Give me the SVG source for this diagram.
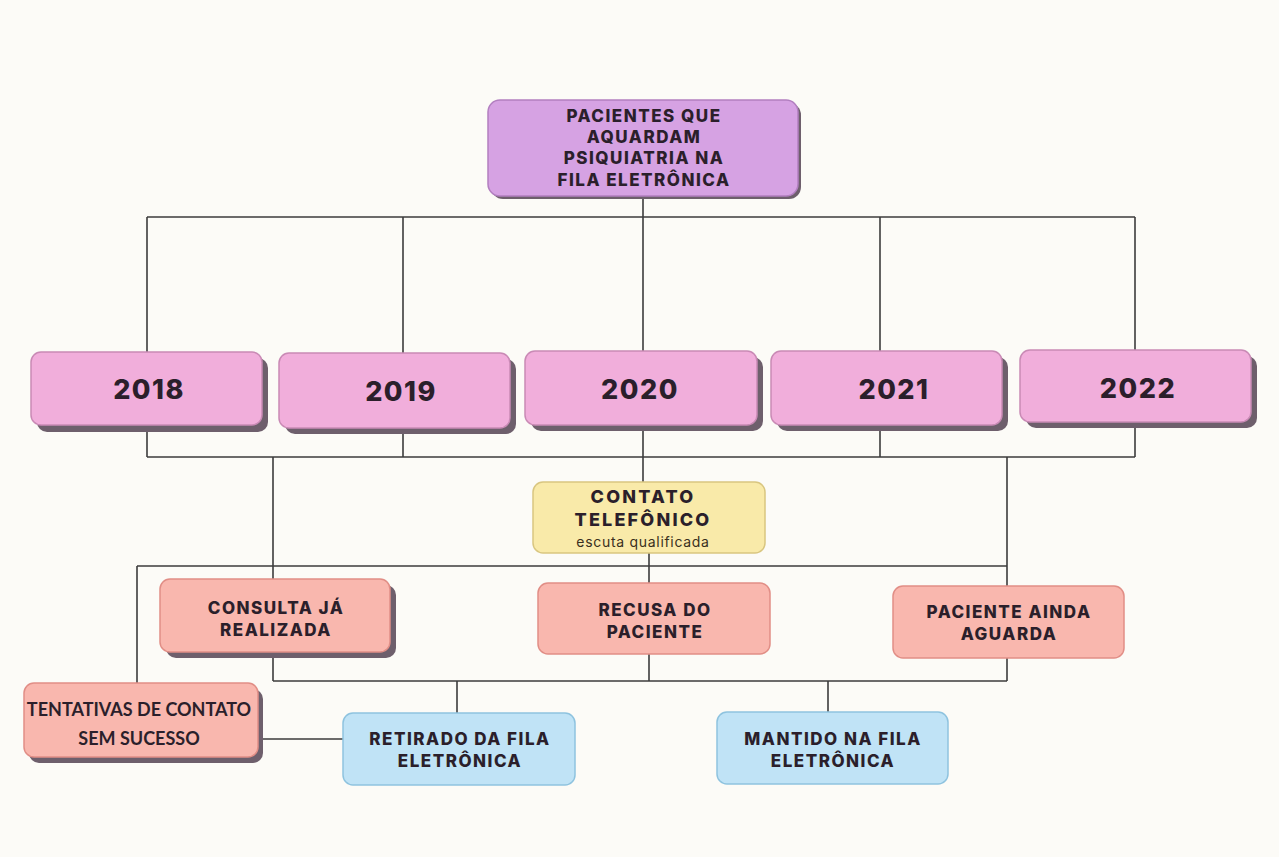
<svg xmlns="http://www.w3.org/2000/svg" width="1279" height="857" viewBox="0 0 1279 857">
<style>
.t{font-family:Inter,"Noto Sans","Liberation Sans",sans-serif;font-weight:800;fill:#2b1f2b;text-anchor:middle}
.h{font-size:17px;letter-spacing:1.5px}
.y{font-size:27px;letter-spacing:1.5px}
.k{font-size:18px;letter-spacing:2.2px}
.s{font-family:Lato,"Liberation Sans",sans-serif;font-weight:700;font-size:18px;fill:#2b1f2b;text-anchor:middle}
.sm{font-family:Inter,"Noto Sans","Liberation Sans",sans-serif;font-weight:400;font-size:14px;letter-spacing:0.7px;fill:#3a3020;text-anchor:middle}
.top{fill:#d6a2e3;stroke:#b27fc0;stroke-width:1.5}
.yr{fill:#f1aedb;stroke:#c98ab5;stroke-width:1.5}
.sh{fill:#6e5f6c}
.ct{fill:#f9eaa9;stroke:#d9c680;stroke-width:1.5}
.rd{fill:#f9b7ae;stroke:#e18e86;stroke-width:1.5}
.bl{fill:#c0e3f6;stroke:#8ec3df;stroke-width:1.5}
.c{stroke:#3c3c3c;stroke-width:1.6;fill:none}
</style>
<rect width="1279" height="857" fill="#fcfbf7"/>
<g id="connectors">
<path class="c" d="M643 196V217M147 217H1135M147 217V352M403 217V353M643 217V351M880 217V351M1135 217V350"/>
<path class="c" d="M147 425V457M403 428V457M643 425V482M880 425V457M1135 422V457M147 457H1135"/>
<path class="c" d="M273 457V579M1007 457V586M137 566H1007M137 566V683M649 553V583"/>
<path class="c" d="M273 652V681M649 654V681M1007 658V681M273 681H1007M457 681V713M828 681V712M258 739H343"/>
</g>
<g id="n-top">
<rect class="sh" x="491" y="103" width="310" height="96" rx="12"/>
<rect class="top" x="488" y="100" width="310" height="96" rx="12"/>
<text class="t h" x="644" y="122">PACIENTES QUE</text>
<text class="t h" x="644" y="143">AQUARDAM</text>
<text class="t h" x="644" y="164">PSIQUIATRIA NA</text>
<text class="t h" x="644" y="186">FILA ELETRÔNICA</text>
</g>
<g id="n-2018">
<rect class="sh" x="37" y="358" width="231" height="74" rx="10"/>
<rect class="yr" x="31" y="352" width="231" height="73" rx="10"/>
<text class="t y" x="149" y="399">2018</text>
</g>
<g id="n-2019">
<rect class="sh" x="285" y="359" width="231" height="75" rx="10"/>
<rect class="yr" x="279" y="353" width="231" height="75" rx="10"/>
<text class="t y" x="401" y="401">2019</text>
</g>
<g id="n-2020">
<rect class="sh" x="531" y="357" width="232" height="74" rx="10"/>
<rect class="yr" x="525" y="351" width="232" height="74" rx="10"/>
<text class="t y" x="640" y="399">2020</text>
</g>
<g id="n-2021">
<rect class="sh" x="777" y="357" width="231" height="74" rx="10"/>
<rect class="yr" x="771" y="351" width="231" height="74" rx="10"/>
<text class="t y" x="894" y="399">2021</text>
</g>
<g id="n-2022">
<rect class="sh" x="1026" y="356" width="231" height="72" rx="10"/>
<rect class="yr" x="1020" y="350" width="231" height="72" rx="10"/>
<text class="t y" x="1138" y="398">2022</text>
</g>
<g id="n-contato">
<rect class="ct" x="533" y="482" width="232" height="71" rx="10"/>
<text class="t k" x="643" y="503">CONTATO</text>
<text class="t k" x="643" y="526">TELEFÔNICO</text>
<text class="sm" x="643" y="547">escuta qualificada</text>
</g>
<g id="n-consulta">
<rect class="sh" x="166" y="585" width="230" height="73" rx="10"/>
<rect class="rd" x="160" y="579" width="230" height="73" rx="10"/>
<text class="t h" x="276" y="614">CONSULTA JÁ</text>
<text class="t h" x="276" y="636">REALIZADA</text>
</g>
<g id="n-recusa">
<rect class="rd" x="538" y="583" width="232" height="71" rx="10"/>
<text class="t h" x="655" y="616">RECUSA DO</text>
<text class="t h" x="655" y="638">PACIENTE</text>
</g>
<g id="n-aguarda">
<rect class="rd" x="893" y="586" width="231" height="72" rx="10"/>
<text class="t h" x="1009" y="618">PACIENTE AINDA</text>
<text class="t h" x="1009" y="640">AGUARDA</text>
</g>
<g id="n-tentativas">
<rect class="sh" x="29" y="689" width="234" height="74" rx="10"/>
<rect class="rd" x="24" y="683" width="234" height="74" rx="10"/>
<text class="s" x="139" y="716">TENTATIVAS DE CONTATO</text>
<text class="s" x="139" y="745">SEM SUCESSO</text>
</g>
<g id="n-retirado">
<rect class="bl" x="343" y="713" width="232" height="72" rx="10"/>
<text class="t h" x="460" y="745">RETIRADO DA FILA</text>
<text class="t h" x="460" y="767">ELETRÔNICA</text>
</g>
<g id="n-mantido">
<rect class="bl" x="717" y="712" width="231" height="72" rx="10"/>
<text class="t h" x="833" y="745">MANTIDO NA FILA</text>
<text class="t h" x="833" y="767">ELETRÔNICA</text>
</g>
</svg>
